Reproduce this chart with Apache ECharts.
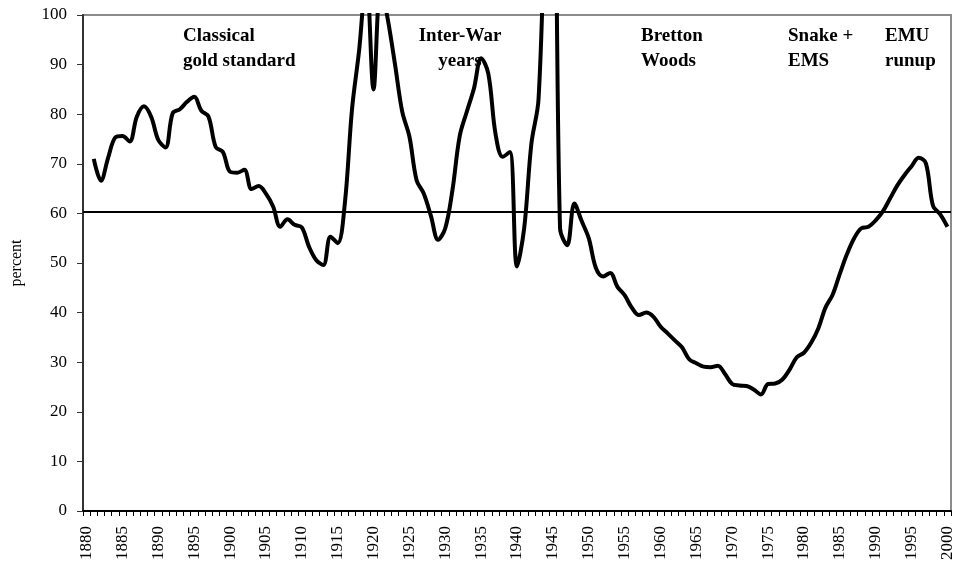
<!DOCTYPE html>
<html>
<head>
<meta charset="utf-8">
<title>percent 1880-2000</title>
<script src="https://cdn.jsdelivr.net/npm/echarts@6/dist/echarts.min.js"></script>
<style>
html, body {
	margin: 0;
	padding: 0;
	background: #fff;
}
#chart {
	width: 957px;
	height: 570px;
}
</style>
</head>
<body>
<div id="chart"></div>
<script type="text/javascript">
    // years on the category axis
    var years = [];
    for (var y = 1880; y <= 2000; y++) years.push(String(y));

    // series values, 1880..2000 (1880 empty, line starts in 1881)
    var values = [
        null, 71, 66.6, 71.2, 75.3, 75.6, 74.5, 79.5, 81.6, 79.5,
        74.8, 73.3, 80.2, 81, 82.5, 83.5, 80.7, 79.5, 73.4, 72.4,
        68.4, 68.2, 68.8, 64.9, 65.5, 64, 61.4, 57.3, 58.8, 57.7,
        57.2, 53.3, 50.6, 49.6, 55.3, 54, 62, 81, 93, 108,
        85, 106, 99, 90, 80.5, 75.5, 66.7, 64, 59.5, 54.7,
        57, 64.7, 75.5, 80.5, 85.2, 91.3, 88.2, 76.1, 71.4, 72.4,
        49.3, 57, 74, 83, 125, 160, 57, 53.6, 62, 58.5,
        55, 49, 47.3, 48, 45.2, 43.5, 41, 39.5, 40, 39.2,
        37.2, 35.8, 34.4, 33, 30.6, 29.8, 29.1, 29, 29.3, 27.6,
        25.6, 25.3, 25.2, 24.5, 23.5, 25.6, 25.7, 26.5, 28.5, 31,
        31.9, 33.9, 36.8, 41, 43.6, 47.8, 51.8, 55, 57, 57.3,
        58.6, 60.4, 63, 65.6, 67.7, 69.5, 71.2, 70.1, 61.5, 59.8,
        57.3
    ];

    // horizontal reference level
    var avgLevel = 60.4;

    // period captions
    var periodLabels = [
        ['Classical', 'gold standard'],
        ['Inter-War', 'years'],
        ['Bretton', 'Woods'],
        ['Snake +', 'EMS'],
        ['EMU', 'runup']
    ];

    var serif = "'Liberation Serif', 'DejaVu Serif', serif";

    var myChart = echarts.init(document.getElementById('chart'));

    // captions sit under the line, like in the original
    function caption(lines, x, y, align) {
        return {
            type: 'text',
            x: x,
            y: y,
            z: -1,
            style: {
                text: lines.join('\n'),
                font: 'bold 19px ' + serif,
                fill: '#000',
                align: align,
                lineHeight: 25
            }
        };
    }

    var option = {
        animation: false,
        backgroundColor: '#fff',
        grid: {
            left: 83, right: 6, top: 15, bottom: 59,
            show: true,
            borderColor: '#8c8c8c',
            borderWidth: 2
        },
        xAxis: {
            type: 'category',
            data: years,
            boundaryGap: true,
            axisLine: {lineStyle: {color: '#000', width: 2}},
            axisTick: {
                show: true,
                interval: 0,
                length: 5,
                lineStyle: {color: '#000'}
            },
            axisLabel: {
                interval: 4,
                rotate: 90,
                margin: 15,
                color: '#000',
                fontFamily: serif,
                fontSize: 17
            },
            splitLine: {show: false}
        },
        yAxis: {
            type: 'value',
            min: 0,
            max: 100,
            interval: 10,
            name: 'percent',
            nameLocation: 'middle',
            nameGap: 58,
            nameTextStyle: {fontFamily: serif, fontSize: 16, color: '#000'},
            axisLine: {show: true, lineStyle: {color: '#333', width: 2}},
            axisTick: {show: true, length: 6, lineStyle: {color: '#333'}},
            axisLabel: {
                margin: 16,
                color: '#000',
                fontFamily: serif,
                fontSize: 17
            },
            splitLine: {show: false}
        },
        series: [{
            type: 'line',
            data: values,
            smooth: 0.35,
            showSymbol: false,
            clip: true,
            z: 5,
            lineStyle: {color: '#000', width: 4},
            markLine: {
                silent: true,
                symbol: 'none',
                label: {show: false},
                lineStyle: {color: '#000', width: 2, type: 'solid'},
                data: [{yAxis: avgLevel}]
            }
        }],
        graphic: [
            caption(periodLabels[0], 183, 24, 'left'),
            caption(periodLabels[1], 460, 24, 'center'),
            caption(periodLabels[2], 641, 24, 'left'),
            caption(periodLabels[3], 788, 24, 'left'),
            caption(periodLabels[4], 885, 24, 'left')
        ]
    };

    myChart.setOption(option);
</script>
</body>
</html>
